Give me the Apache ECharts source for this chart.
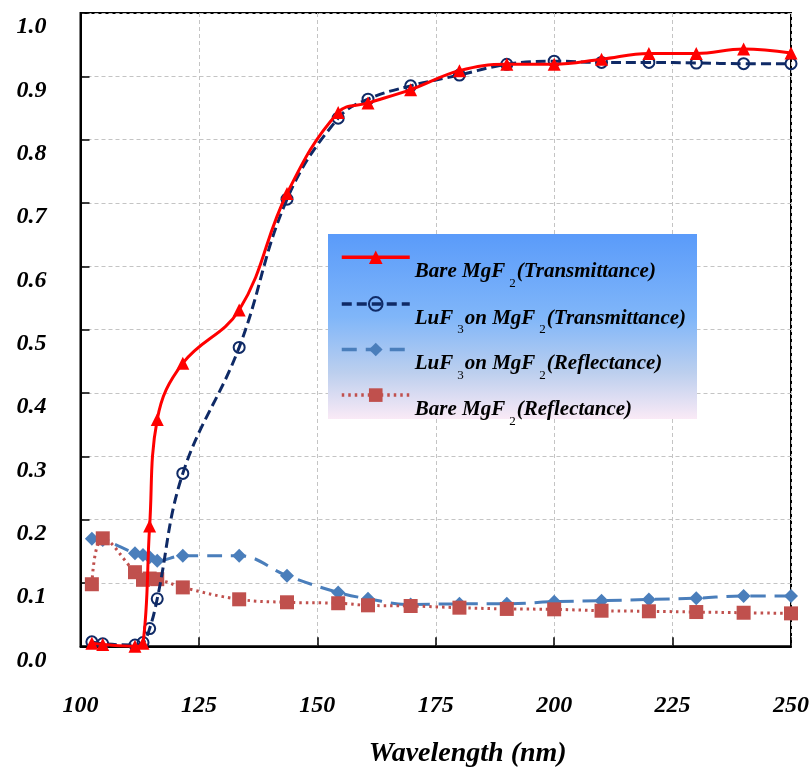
<!DOCTYPE html>
<html>
<head>
<meta charset="utf-8">
<script src="https://cdn.jsdelivr.net/npm/echarts@6/dist/echarts.min.js"></script>
<style>
  html, body { margin: 0; padding: 0; background: #ffffff; }
  #chart { width: 811px; height: 769px; }
</style>
</head>
<body>
<div id="chart"></div>
<script>
// Measured wavelengths (nm), shared by all four curves
const wavelengths = [102.4, 104.7, 111.5, 113.2, 114.6, 116.2, 121.6, 133.5, 143.6, 154.4,
                     160.7, 169.7, 180, 190, 200, 210, 220, 230, 240, 250];

// Bare MgF2 transmittance
const bareMgF2T = [0.005, 0.003, 0.000, 0.005, 0.190, 0.358, 0.447, 0.531, 0.715, 0.843,
                   0.858, 0.879, 0.909, 0.919, 0.919, 0.927, 0.936, 0.936, 0.943, 0.937];
// LuF3 on MgF2 transmittance
const luF3T = [0.007, 0.004, 0.002, 0.006, 0.028, 0.075, 0.273, 0.472, 0.706, 0.834,
               0.864, 0.885, 0.902, 0.919, 0.924, 0.922, 0.922, 0.921, 0.920, 0.920];
// LuF3 on MgF2 reflectance
const luF3R = [0.170, 0.168, 0.147, 0.144, 0.1405, 0.135, 0.143, 0.143, 0.1115, 0.085,
               0.075, 0.066, 0.067, 0.067, 0.0705, 0.072, 0.074, 0.076, 0.0794, 0.0794];
// Bare MgF2 reflectance
const bareMgF2R = [0.098, 0.1705, 0.117, 0.105, 0.107, 0.106, 0.093, 0.0742, 0.0695, 0.068,
                   0.0647, 0.0636, 0.061, 0.059, 0.0584, 0.0562, 0.0553, 0.0541, 0.053, 0.052];

const seriesNames = [
  'Bare MgF2 (Transmittance)',
  'LuF3 on MgF2 (Transmittance)',
  'LuF3 on MgF2 (Reflectance)',
  'Bare MgF2 (Reflectance)'
];
// Legend captions with subscripts as rich text
const legendCaptions = [
  '{t|Bare MgF}{s|2}{t|(Transmittance)}',
  '{t|LuF}{s|3}{t|on MgF}{s|2}{t|(Transmittance)}',
  '{t|LuF}{s|3}{t|on MgF}{s|2}{t|(Reflectance)}',
  '{t|Bare MgF}{s|2}{t|(Reflectance)}'
];

const xAxisRange = { min: 100, max: 250, step: 25 };
const yAxisRange = { min: 0, max: 1, step: 0.1 };
const xTitle = 'Wavelength (nm)';

const serif = '"Liberation Serif", "Times New Roman", serif';
const pairs = vals => wavelengths.map((w, i) => [w, vals[i]]);

const chart = echarts.init(document.getElementById('chart'), null, { renderer: 'canvas' });

chart.setOption({
  animation: false,
  backgroundColor: '#ffffff',
  grid: {
    left: 80.5, right: 20, top: 13, bottom: 122.7,
    containLabel: false,
    outerBoundsMode: 'none',
    show: true, borderColor: '#000', borderWidth: 2, backgroundColor: 'transparent'
  },
  xAxis: {
    type: 'value',
    min: xAxisRange.min, max: xAxisRange.max, interval: xAxisRange.step,
    name: xTitle,
    nameLocation: 'middle',
    nameGap: 93,
    nameTextStyle: {
      fontFamily: serif, fontSize: 28, fontWeight: 'bold', fontStyle: 'italic', color: '#000',
      padding: [0, 0, 0, 64]
    },
    axisLine: { show: true, lineStyle: { color: '#000', width: 2 } },
    axisTick: { show: true, inside: true, length: 9, lineStyle: { color: '#000', width: 1.5 } },
    axisLabel: {
      margin: 47, fontFamily: serif, fontSize: 24, fontWeight: 'bold', fontStyle: 'italic', color: '#000',
      showMinLabel: true, showMaxLabel: true
    },
    splitLine: { show: true, lineStyle: { color: '#c4c4c4', type: [4, 3], width: 1 } }
  },
  yAxis: {
    type: 'value',
    min: yAxisRange.min, max: yAxisRange.max, interval: yAxisRange.step,
    axisLine: { show: true, lineStyle: { color: '#000', width: 2 } },
    axisTick: { show: true, inside: true, length: 9, lineStyle: { color: '#000', width: 1.5 } },
    axisLabel: {
      margin: 34, fontFamily: serif, fontSize: 24, fontWeight: 'bold', fontStyle: 'italic', color: '#000',
      verticalAlign: 'top', lineHeight: 28,
      formatter: v => v.toFixed(1),
      showMinLabel: true, showMaxLabel: true
    },
    splitLine: { show: true, lineStyle: { color: '#c4c4c4', type: [4, 3], width: 1 } }
  },
  graphic: [{
    type: 'rect',
    left: 328, top: 234, z: 3,
    shape: { width: 369, height: 185 },
    style: {
      fill: new echarts.graphic.LinearGradient(0, 0, 0, 1, [
        { offset: 0, color: '#5a9bfa' },
        { offset: 0.45, color: '#80b6f9' },
        { offset: 0.75, color: '#bccfee' },
        { offset: 1, color: '#faeaf6' }
      ])
    }
  }],
  legend: {
    orient: 'vertical',
    left: 340, top: 250.5,
    padding: 0,
    itemGap: 6.3,
    itemWidth: 68, itemHeight: 17,
    selectedMode: false,
    z: 4,
    data: seriesNames,
    lineStyle: { width: 3.5 },
    formatter: name => legendCaptions[seriesNames.indexOf(name)],
    textStyle: {
      padding: [29, 0, 0, 0],
      rich: {
        t: { fontFamily: serif, fontSize: 21, fontWeight: 'bold', fontStyle: 'italic', color: '#000', lineHeight: 36 },
        s: { fontFamily: serif, fontSize: 13, fontWeight: 'normal', fontStyle: 'normal', color: '#000',
             lineHeight: 13, verticalAlign: 'bottom', padding: [0, 1, 0, 4] }
      }
    }
  },
  series: [
    {
      name: seriesNames[0], type: 'line', smooth: 0.4, data: pairs(bareMgF2T),
      symbol: 'triangle', symbolSize: 13, z: 5,
      lineStyle: { color: '#ff0000', width: 3, type: 'solid' },
      itemStyle: { color: '#ff0000' }
    },
    {
      name: seriesNames[1], type: 'line', smooth: 0.4, data: pairs(luF3T),
      symbol: 'circle', symbolSize: 11, z: 4,
      lineStyle: { color: '#0f2a66', width: 3, type: [10, 5] },
      itemStyle: { color: 'rgba(255,255,255,0)', borderColor: '#0f2a66', borderWidth: 2 }
    },
    {
      name: seriesNames[2], type: 'line', smooth: 0.4, data: pairs(luF3R),
      symbol: 'diamond', symbolSize: 14, z: 3,
      lineStyle: { color: '#4a7ebb', width: 3, type: [15, 9] },
      itemStyle: { color: '#4a7ebb' }
    },
    {
      name: seriesNames[3], type: 'line', smooth: 0.4, data: pairs(bareMgF2R),
      symbol: 'rect', symbolSize: 14, z: 3,
      lineStyle: { color: '#c0504d', width: 3, type: [2.5, 4] },
      itemStyle: { color: '#c0504d' }
    }
  ]
});
</script>
</body>
</html>
